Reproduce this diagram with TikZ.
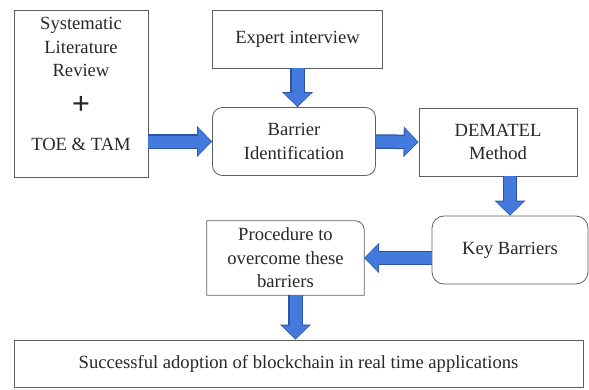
\documentclass[tikz,border=0pt]{standalone}
\usepackage{fontspec}
\setmainfont{Liberation Serif}
\usepackage{tikz}
\usetikzlibrary{arrows.meta, calc, positioning}
\definecolor{txtgray}{RGB}{40,40,40}
\definecolor{linegray}{RGB}{95,95,95}
\definecolor{flowblue}{RGB}{68,122,222}
\definecolor{flowedge}{RGB}{45,85,165}

\tikzset{
    box/.style={draw=linegray, line width=0.8pt, fill=white, inner sep=0pt,
        align=center, text=txtgray, font=\fontsize{18.6}{23.5}\selectfont},
    roundbox/.style={box, rounded corners=10pt},
    label/.style={inner sep=0pt, align=center, text=txtgray,
        font=\fontsize{18.6}{23.5}\selectfont},
    barrow/.style={draw=flowedge, line width=14.5pt,
        -{Triangle[length=15pt, width=30pt]},
        postaction={draw=flowblue, line width=12pt,
            -{Triangle[length=13pt, width=26.5pt]}, shorten >=1.1pt}}
}

\begin{document}
\begin{tikzpicture}[x=1pt, y=-1pt]
    \useasboundingbox (0,0) rectangle (589,389);

    % left source box
    \node[box, minimum width=134pt, minimum height=167pt] (slr) at (81,93.5) {};
    \node[label] (slrtxt) at (81,47) {Systematic\\Literature\\Review};
    \node[label, font=\fontsize{32}{32}\selectfont\bfseries] (plus) at (81,105) {+};
    \node[label] (toe) at (81,144) {TOE \& TAM};

    % top row
    \node[box, minimum width=170pt, minimum height=58pt] (ei) at (297.5,39) {Expert interview};
    \node[roundbox, minimum width=163pt, minimum height=68pt] (bi) at (294,141.5) {Barrier\\Identification};
    \node[box, minimum width=158pt, minimum height=68pt] (dm) at (498,142) {DEMATEL\\Method};

    % middle row
    \node[roundbox, rounded corners=12pt, minimum width=156pt, minimum height=68pt] (kb) at (510,250) {Key Barriers};
    \node[label, minimum width=157pt, minimum height=74pt] (pr) at (285.5,258) {Procedure to\\overcome these\\barriers};
    \draw[linegray, line width=0.8pt] (pr.south west) |- ([xshift=-9pt]pr.north east)
        arc[start angle=90, end angle=0, radius=9pt] -- (pr.south east) -- cycle;

    % result
    \node[box, minimum width=569pt, minimum height=47pt] (sa) at (298.5,363.5) {Successful adoption of blockchain in real time applications};

    % block arrows
    \draw[barrow] (slr.east |- bi.west) -- (bi.west);
    \draw[barrow] (ei.south) -- (ei.south |- bi.north);
    \draw[barrow] (bi.east) -- (dm.west);
    \draw[barrow] (kb.north |- dm.south) -- (kb.north);
    \draw[barrow] (kb.west |- pr.east) -- (pr.east);
    \draw[barrow] ([xshift=10pt]pr.south) -- ([xshift=10pt]pr.south |- sa.north);
\end{tikzpicture}
\end{document}
